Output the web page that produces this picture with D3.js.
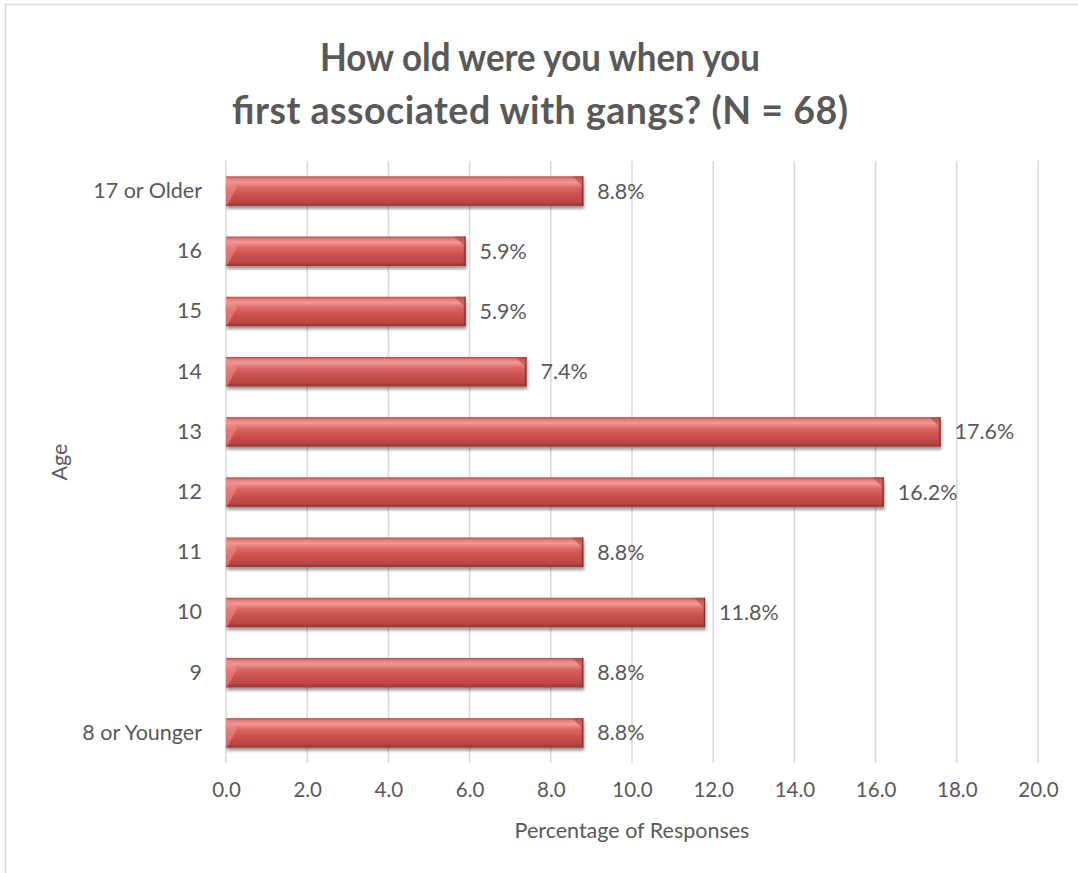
<!DOCTYPE html>
<html>
<head>
<meta charset="utf-8">
<script src="https://cdn.jsdelivr.net/npm/d3@7"></script>
<style>
    body { margin: 0; background: #fff; }
    svg { display: block; font-family: Lato, "Open Sans", sans-serif; }
</style>
</head>
<body>
<script>
// ! DATA ! //
const ageGroups = ["17 or Older", "16", "15", "14", "13", "12", "11", "10", "9", "8 or Younger"];
const percentValues = [8.8, 5.9, 5.9, 7.4, 17.6, 16.2, 8.8, 11.8, 8.8, 8.8];
const xTicks = [0, 2, 4, 6, 8, 10, 12, 14, 16, 18, 20];
const titleLines = ["How old were you when you", "first associated with gangs? (N = 68)"];

const width = 1078;
const height = 873;
const plot = { left: 226, right: 1038, top: 161, bottom: 763 };
const textColor = "#595959";
const labelSize = 21.5;

const svg = d3.select("body").append("svg").attr("width", width).attr("height", height);

// ^ GRADIENTS / SHADOW ^ //
const defs = svg.append("defs");
const grad = defs.append("linearGradient").attr("id", "barGrad").attr("x1", 0).attr("y1", 0).attr("x2", 0).attr("y2", 1);
[
    [0, "#b9443f"],
    [0.08, "#e37d7a"],
    [0.2, "#f29896"],
    [0.38, "#dc6764"],
    [0.6, "#cb5350"],
    [0.88, "#bb4643"],
    [1, "#923230"],
].forEach(([o, c]) => grad.append("stop").attr("offset", o).attr("stop-color", c));

const shadow = defs.append("filter").attr("id", "shadow").attr("x", "-5%").attr("y", "-30%").attr("width", "110%").attr("height", "180%");
shadow.append("feGaussianBlur").attr("in", "SourceAlpha").attr("stdDeviation", 1.8);
shadow.append("feOffset").attr("dx", 1).attr("dy", 3).attr("result", "off");
shadow.append("feComponentTransfer").append("feFuncA").attr("type", "linear").attr("slope", 0.4);
const merge = shadow.append("feMerge");
merge.append("feMergeNode");
merge.append("feMergeNode").attr("in", "SourceGraphic");

// ^ OUTER FRAME ^ //
svg.append("rect").attr("x", 5.5).attr("y", 4.5).attr("width", 1090).attr("height", 890)
    .attr("fill", "none").attr("stroke", "#d9d9d9").attr("stroke-width", 1.5);

// ^ SCALES ^ //
const x = d3.scaleLinear().domain([0, 20]).range([plot.left, plot.right]);
const y = d3.scaleBand().domain(ageGroups).range([plot.top, plot.bottom]).paddingInner(0.51).paddingOuter(0.255);

// ^ GRIDLINES ^ //
svg.append("g").selectAll("line").data(xTicks).enter().append("line")
    .attr("x1", (d) => x(d)).attr("x2", (d) => x(d))
    .attr("y1", plot.top).attr("y2", plot.bottom)
    .attr("stroke", "#d9d9d9").attr("stroke-width", 1.5);

// ^ X AXIS ^ //
const xAxis = svg.append("g").attr("transform", `translate(0,${plot.bottom})`)
    .call(d3.axisBottom(x).tickValues(xTicks).tickSize(0).tickPadding(19).tickFormat((d) => d.toFixed(1)));
xAxis.select(".domain").remove();
xAxis.selectAll("text").attr("font-size", 20.5).attr("fill", textColor).attr("font-family", "Lato, sans-serif");

// ^ Y AXIS ^ //
const yAxis = svg.append("g").attr("transform", `translate(${plot.left},0)`)
    .call(d3.axisLeft(y).tickSize(0).tickPadding(24));
yAxis.select(".domain").remove();
yAxis.selectAll("text").attr("font-size", labelSize).attr("fill", textColor).attr("font-family", "Lato, sans-serif");

// ^ BARS ^ //
const bars = svg.append("g").selectAll("g").data(ageGroups).enter().append("g");
const bh = y.bandwidth();
const bev = 11;

bars.append("rect")
    .attr("x", x(0)).attr("y", (d) => y(d))
    .attr("width", (d, i) => x(percentValues[i]) - x(0)).attr("height", bh)
    .attr("fill", "url(#barGrad)").attr("filter", "url(#shadow)");

// right end bevel
bars.append("path")
    .attr("d", (d, i) => {
        const xe = x(percentValues[i]), y0 = y(d);
        return `M${xe - bev},${y0} L${xe},${y0} L${xe},${y0 + bh} L${xe - 2},${y0 + bh - 2} L${xe - 2},${y0 + bev - 2} Z`;
    })
    .attr("fill", "#a8403d").attr("opacity", 0.55);
bars.append("line")
    .attr("x1", (d, i) => x(percentValues[i]) - 0.5).attr("x2", (d, i) => x(percentValues[i]) - 0.5)
    .attr("y1", (d) => y(d)).attr("y2", (d) => y(d) + bh)
    .attr("stroke", "#7d2a28").attr("stroke-width", 1);
// left end bevel
bars.append("path")
    .attr("d", (d) => {
        const x0 = x(0), y0 = y(d);
        return `M${x0},${y0} L${x0 + bev},${y0 + bev} L${x0 + 2},${y0 + bh - 2} L${x0},${y0 + bh} Z`;
    })
    .attr("fill", "#f08f8c").attr("opacity", 0.55);

// ^ VALUE LABELS ^ //
svg.append("g").selectAll("text").data(ageGroups).enter().append("text")
    .attr("x", (d, i) => x(percentValues[i]) + 14)
    .attr("y", (d) => y(d) + bh / 2)
    .attr("dy", "0.35em")
    .attr("font-size", labelSize).attr("fill", textColor)
    .text((d, i) => percentValues[i].toFixed(1) + "%");

// ^ AXIS TITLES ^ //
svg.append("text").attr("x", 632).attr("y", 838)
    .attr("text-anchor", "middle").attr("font-size", labelSize).attr("fill", textColor)
    .text("Percentage of Responses");
svg.append("text").attr("transform", `translate(67,${(plot.top + plot.bottom) / 2}) rotate(-90)`)
    .attr("text-anchor", "middle").attr("font-size", labelSize).attr("fill", textColor)
    .text("Age");

// ^ TITLE ^ //
const titleWidths = [440, 616];
const titleAdjust = ["spacingAndGlyphs", "spacing"];
svg.append("g").selectAll("text").data(titleLines).enter().append("text")
    .attr("x", 540).attr("y", (d, i) => 71 + i * 53)
    .attr("text-anchor", "middle").attr("font-size", 37.5).attr("font-weight", "bold").attr("fill", textColor)
    .attr("textLength", (d, i) => titleWidths[i]).attr("lengthAdjust", (d, i) => titleAdjust[i])
    .text((d) => d);
</script>
</body>
</html>
